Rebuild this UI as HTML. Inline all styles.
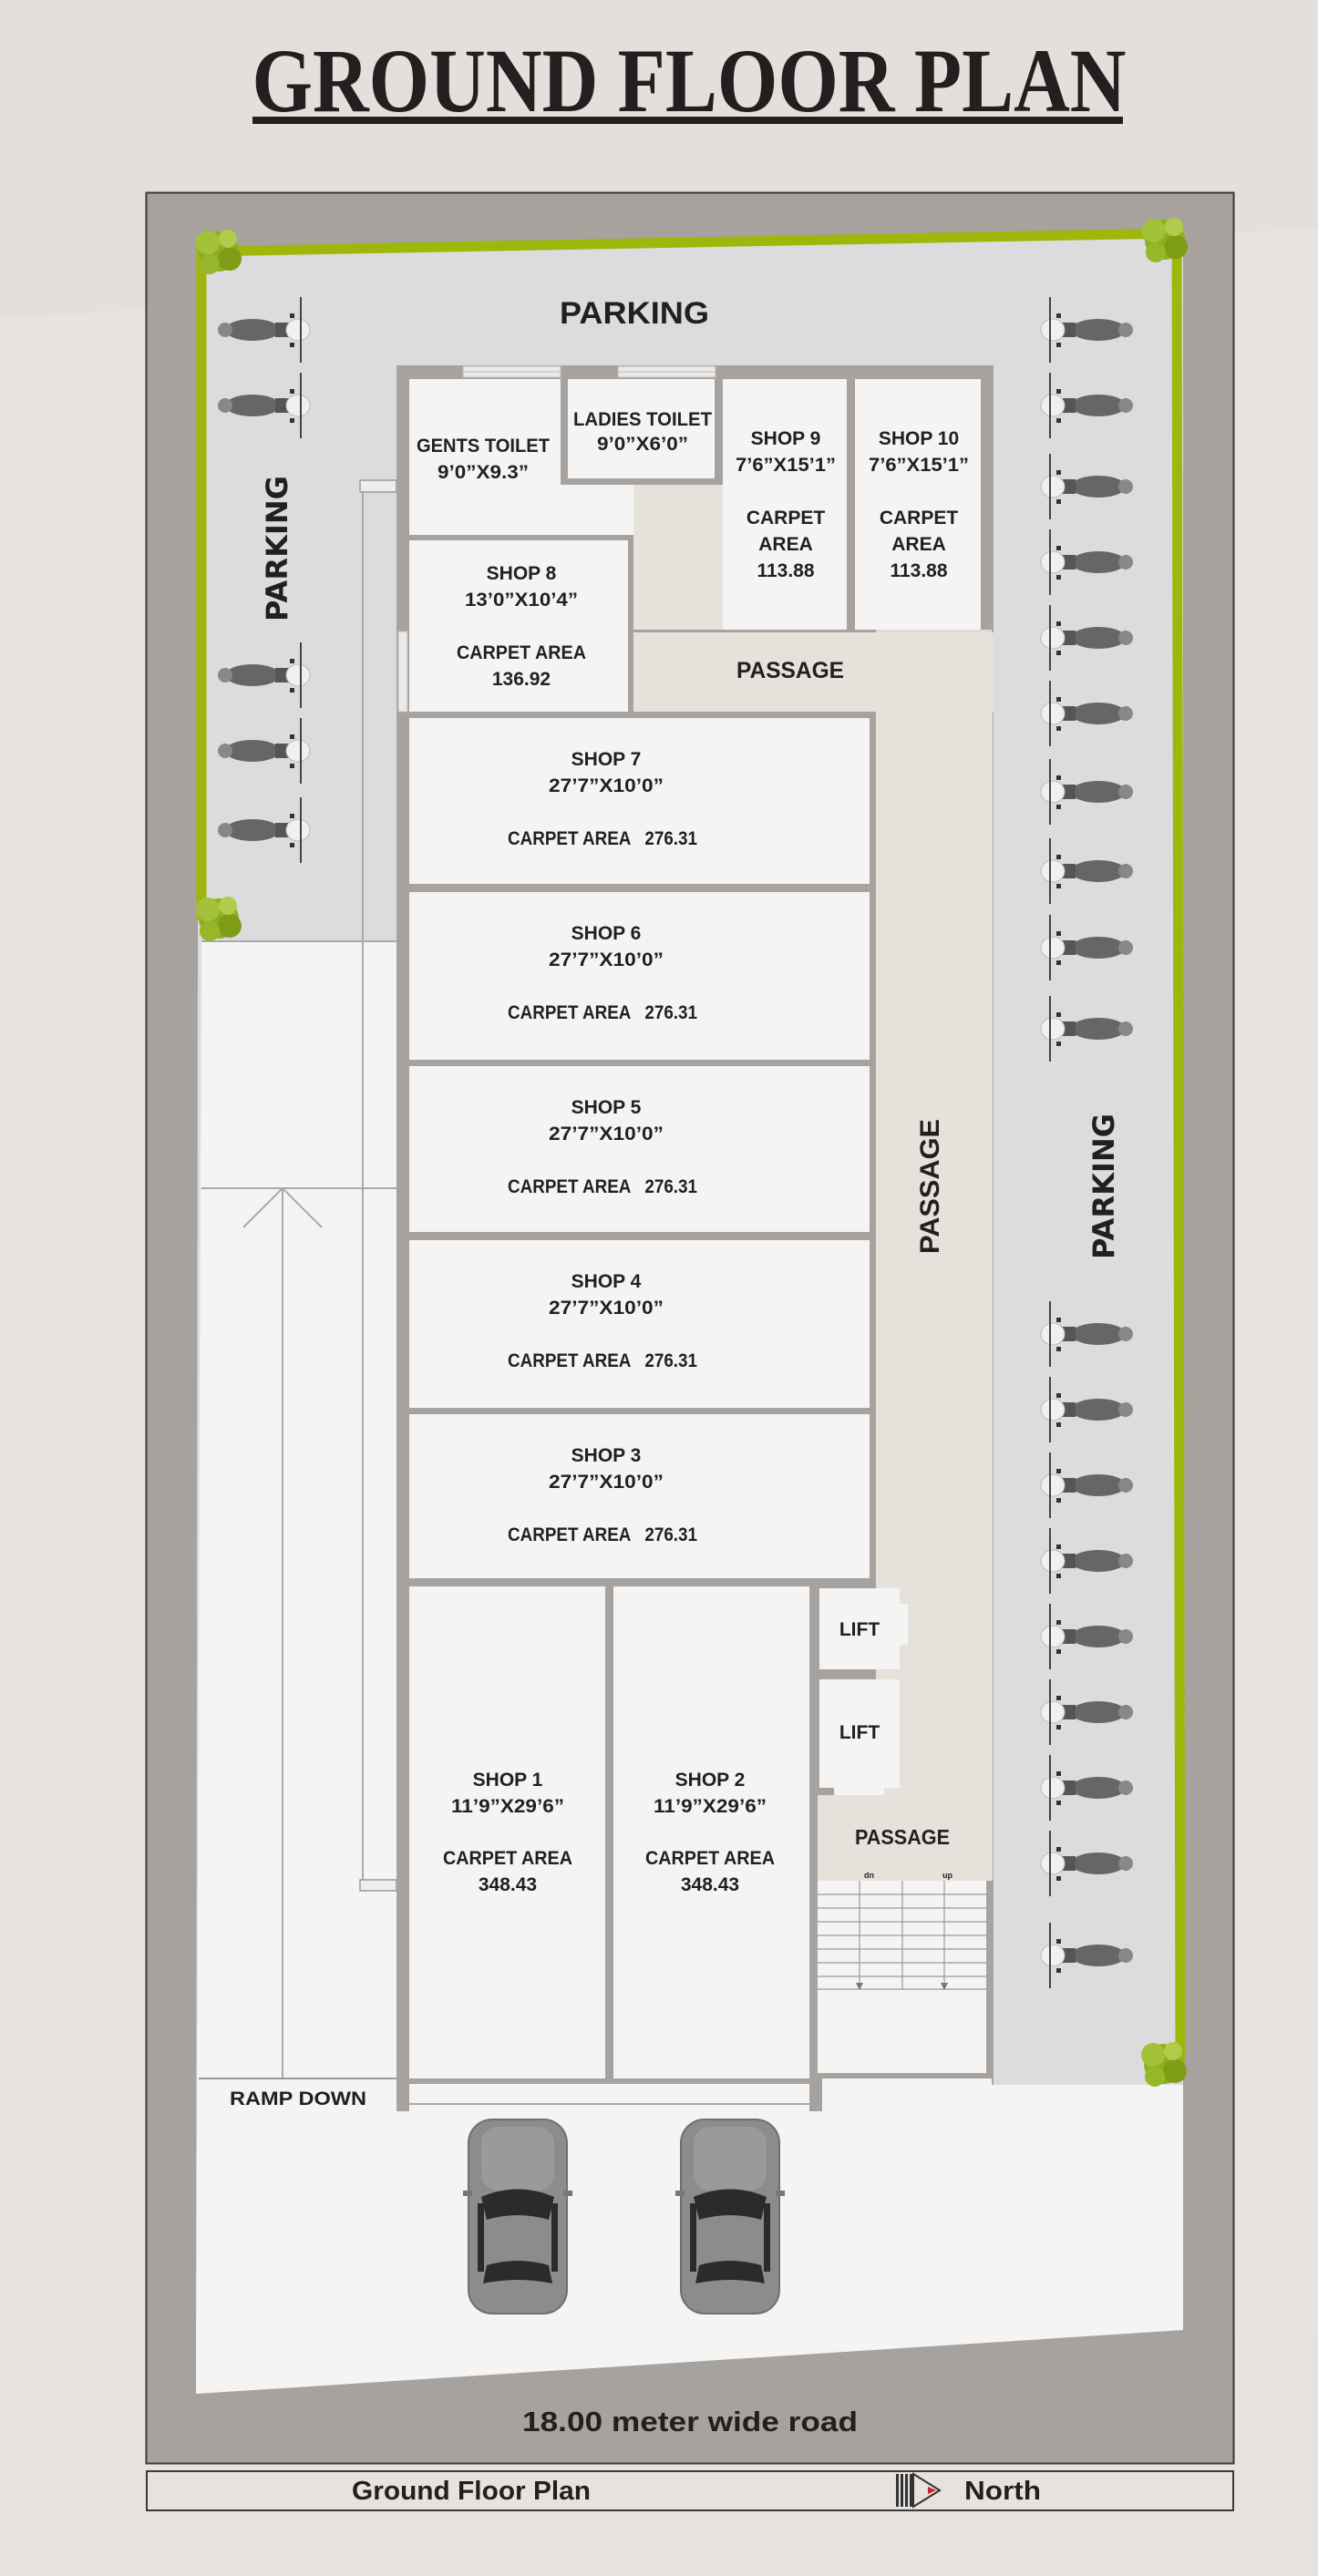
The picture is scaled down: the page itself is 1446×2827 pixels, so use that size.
<!DOCTYPE html>
<html><head><meta charset="utf-8"><style>
html,body{margin:0;padding:0;background:#e6e2dd;}
svg{display:block}
text{font-family:"Liberation Sans",sans-serif;font-weight:bold;fill:#231f20;}
</style></head><body>
<svg width="1446" height="2827" viewBox="0 0 1446 2827" xmlns="http://www.w3.org/2000/svg">
<defs>
<g id="bikeL">
  <ellipse cx="-5" cy="0" rx="30" ry="12" fill="#666"/>
  <ellipse cx="-35" cy="0" rx="8" ry="8" fill="#888"/>
  <rect x="20" y="-8" width="18" height="16" fill="#555"/>
  <ellipse cx="45" cy="0" rx="13" ry="12" fill="#f0f0f0" stroke="#bbb"/>
  <line x1="48" y1="-36" x2="48" y2="36" stroke="#444" stroke-width="2"/>
  <rect x="36" y="-18" width="5" height="5" fill="#333"/>
  <rect x="36" y="14" width="5" height="5" fill="#333"/>
</g>
<g id="bikeR"><use href="#bikeL" transform="scale(-1,1)"/></g>
<g id="car">
  <rect x="0" y="0" width="108" height="213" rx="26" fill="#8c8c8c" stroke="#6f6f6f" stroke-width="2"/>
  <rect x="14" y="8" width="80" height="70" rx="18" fill="#9a9a9a"/>
  <path d="M14 85 Q54 68 94 85 L88 110 Q54 100 20 110 Z" fill="#2b2b2b"/>
  <rect x="10" y="92" width="7" height="75" fill="#2b2b2b"/>
  <rect x="91" y="92" width="7" height="75" fill="#2b2b2b"/>
  <path d="M20 160 Q54 150 88 160 L92 180 Q54 172 16 180 Z" fill="#2b2b2b"/>
  <rect x="-6" y="78" width="10" height="6" fill="#777"/>
  <rect x="104" y="78" width="10" height="6" fill="#777"/>
</g>
<g id="tree">
  <circle cx="0" cy="0" r="22" fill="#8fae1f"/>
  <circle cx="-12" cy="-10" r="13" fill="#a3c23a"/>
  <circle cx="12" cy="8" r="13" fill="#7f9c17"/>
  <circle cx="10" cy="-14" r="10" fill="#b0cc4a"/>
  <circle cx="-10" cy="14" r="11" fill="#98b62a"/>
</g>
</defs>

<rect x="0" y="0" width="1446" height="2827" fill="#e8e5e1"/>
<polygon points="0,0 1446,0 1446,250 0,350" fill="#e3dfda"/>
<polygon points="0,2660 1446,2560 1446,2827 0,2827" fill="#e6e2dd"/>

<text x="756" y="122" text-anchor="middle" font-size="100" textLength="959" lengthAdjust="spacingAndGlyphs" style="font-family:'Liberation Serif',serif">GROUND FLOOR PLAN</text>
<rect x="277" y="128" width="955" height="8" fill="#231f20"/>

<rect x="160.5" y="211.5" width="1193" height="2492" fill="#a7a29d" stroke="#3a3a3a" stroke-width="2"/>

<polygon points="218,274 1291,252 1298,252 1298,2288 1298,2557 215,2627" fill="#dcdcde"/>
<polygon points="221,1033 435,1033 435,2281 1089,2281 1089,2288 1298,2288 1298,2557 215,2627" fill="#f4f4f4"/>

<polyline points="221,1010 221,276 1291,256 1295,2262" fill="none" stroke="#9db70b" stroke-width="11"/>

<line x1="221" y1="1033" x2="435" y2="1033" stroke="#aaa" stroke-width="2"/>
<line x1="221" y1="1304" x2="435" y2="1304" stroke="#aaa" stroke-width="2"/>
<line x1="310" y1="1304" x2="310" y2="2281" stroke="#aaa" stroke-width="2"/>
<polyline points="267,1347 310,1304 353,1347" fill="none" stroke="#aaa" stroke-width="2"/>
<line x1="398" y1="540" x2="398" y2="2063" stroke="#aaa" stroke-width="2"/>
<rect x="395" y="527" width="40" height="13" fill="#eee" stroke="#999" stroke-width="1.5"/>
<rect x="395" y="2063" width="40" height="12" fill="#eee" stroke="#999" stroke-width="1.5"/>
<line x1="218" y1="2281" x2="435" y2="2281" stroke="#999" stroke-width="2"/>
<line x1="1089" y1="691" x2="1089" y2="2288" stroke="#aaa" stroke-width="2"/>

<rect x="435" y="401" width="655" height="290" fill="#a8a29e"/>
<rect x="435" y="691" width="526" height="1050" fill="#a8a29e"/>
<rect x="435" y="1732" width="561" height="238" fill="#a8a29e"/>
<rect x="435" y="1741" width="467" height="546" fill="#a8a29e"/>
<rect x="435" y="2281" width="14" height="36" fill="#a8a29e"/>
<rect x="888" y="2281" width="14" height="36" fill="#a8a29e"/>
<rect x="888" y="2064" width="202" height="217" fill="#a8a29e"/>

<rect x="695" y="532" width="98" height="159" fill="#e6e1db"/>
<rect x="695" y="694" width="395" height="87" fill="#e6e1db"/>
<rect x="961" y="781" width="128" height="1283" fill="#e6e1db"/>
<rect x="996" y="1732" width="93" height="332" fill="#e6e1db"/>
<rect x="897" y="1970" width="192" height="94" fill="#e6e1db"/>

<g fill="#f4f4f4">
<rect x="449" y="416" width="166" height="171"/>
<rect x="615" y="532" width="80" height="55"/>
<rect x="623" y="416" width="161" height="109"/>
<rect x="793" y="416" width="136" height="275"/>
<rect x="938" y="416" width="138" height="275"/>
<rect x="449" y="593" width="240" height="188"/>
<rect x="449" y="788" width="505" height="182"/>
<rect x="449" y="979" width="505" height="184"/>
<rect x="449" y="1170" width="505" height="182"/>
<rect x="449" y="1361" width="505" height="184"/>
<rect x="449" y="1552" width="505" height="180"/>
<rect x="449" y="1741" width="215" height="540"/>
<rect x="673" y="1741" width="215" height="540"/>
<rect x="899" y="1743" width="88" height="89"/>
<rect x="899" y="1843" width="88" height="119"/>
<rect x="897" y="2064" width="185" height="211"/>
<rect x="449" y="2287" width="439" height="22"/>
</g>
<line x1="449" y1="2309" x2="888" y2="2309" stroke="#aaa" stroke-width="2"/>
<rect x="987" y="1760" width="9" height="45" fill="#f4f4f4"/>
<rect x="915" y="1962" width="55" height="8" fill="#f4f4f4"/>
<g fill="#eceae8" stroke="#bbb" stroke-width="1">
<rect x="508" y="402" width="107" height="12"/>
<rect x="678" y="402" width="107" height="12"/>
<rect x="437" y="693" width="10" height="88"/>
</g>
<line x1="508" y1="408" x2="615" y2="408" stroke="#bbb"/>
<line x1="678" y1="408" x2="785" y2="408" stroke="#bbb"/>

<g stroke="#999" stroke-width="1.2">
<line x1="897" y1="2079" x2="1082" y2="2079"/><line x1="897" y1="2094" x2="1082" y2="2094"/>
<line x1="897" y1="2109" x2="1082" y2="2109"/><line x1="897" y1="2124" x2="1082" y2="2124"/>
<line x1="897" y1="2139" x2="1082" y2="2139"/><line x1="897" y1="2154" x2="1082" y2="2154"/>
<line x1="897" y1="2169" x2="1082" y2="2169"/><line x1="897" y1="2183" x2="1082" y2="2183"/>
<line x1="943" y1="2064" x2="943" y2="2180"/><line x1="990" y1="2064" x2="990" y2="2183"/>
<line x1="1036" y1="2064" x2="1036" y2="2180"/>
</g>
<path d="M939 2176 L943 2184 L947 2176Z M1032 2176 L1036 2184 L1040 2176Z" fill="#777"/>
<text x="948" y="2061" font-size="9" font-weight="normal">dn</text>
<text x="1034" y="2061" font-size="9" font-weight="normal">up</text>

<use href="#tree" transform="translate(240,276)"/>
<use href="#tree" transform="translate(1278,263)"/>
<use href="#tree" transform="translate(240,1008)"/>
<use href="#tree" transform="translate(1277,2265)"/>

<use href="#bikeL" transform="translate(282,362)"/>
<use href="#bikeL" transform="translate(282,445)"/>
<use href="#bikeL" transform="translate(282,741)"/>
<use href="#bikeL" transform="translate(282,824)"/>
<use href="#bikeL" transform="translate(282,911)"/>
<use href="#bikeR" transform="translate(1200,362)"/>
<use href="#bikeR" transform="translate(1200,445)"/>
<use href="#bikeR" transform="translate(1200,534)"/>
<use href="#bikeR" transform="translate(1200,617)"/>
<use href="#bikeR" transform="translate(1200,700)"/>
<use href="#bikeR" transform="translate(1200,783)"/>
<use href="#bikeR" transform="translate(1200,869)"/>
<use href="#bikeR" transform="translate(1200,956)"/>
<use href="#bikeR" transform="translate(1200,1040)"/>
<use href="#bikeR" transform="translate(1200,1129)"/>
<use href="#bikeR" transform="translate(1200,1464)"/>
<use href="#bikeR" transform="translate(1200,1547)"/>
<use href="#bikeR" transform="translate(1200,1630)"/>
<use href="#bikeR" transform="translate(1200,1713)"/>
<use href="#bikeR" transform="translate(1200,1796)"/>
<use href="#bikeR" transform="translate(1200,1879)"/>
<use href="#bikeR" transform="translate(1200,1962)"/>
<use href="#bikeR" transform="translate(1200,2045)"/>
<use href="#bikeR" transform="translate(1200,2146)"/>

<use href="#car" transform="translate(514,2326)"/>
<use href="#car" transform="translate(747,2326)"/>

<g text-anchor="middle" font-size="21">
<text x="696" y="355" font-size="34" textLength="164" lengthAdjust="spacingAndGlyphs">PARKING</text>
<text transform="translate(315,602) rotate(-90)" font-size="32" style="font-family:'DejaVu Sans',sans-serif" textLength="160" lengthAdjust="spacingAndGlyphs">PARKING</text>
<text transform="translate(1222,1302) rotate(-90)" font-size="32" style="font-family:'DejaVu Sans',sans-serif" textLength="160" lengthAdjust="spacingAndGlyphs">PARKING</text>

<text x="530" y="496" textLength="146" lengthAdjust="spacingAndGlyphs">GENTS TOILET</text>
<text x="530" y="525" textLength="100" lengthAdjust="spacingAndGlyphs">9’0”X9.3”</text>
<text x="705" y="467" textLength="152" lengthAdjust="spacingAndGlyphs">LADIES TOILET</text>
<text x="705" y="494" textLength="100" lengthAdjust="spacingAndGlyphs">9’0”X6’0”</text>

<text x="862" y="488">SHOP 9</text>
<text x="862" y="517" textLength="110" lengthAdjust="spacingAndGlyphs">7’6”X15’1”</text>
<text x="862" y="575">CARPET</text>
<text x="862" y="604">AREA</text>
<text x="862" y="633">113.88</text>
<text x="1008" y="488">SHOP 10</text>
<text x="1008" y="517" textLength="110" lengthAdjust="spacingAndGlyphs">7’6”X15’1”</text>
<text x="1008" y="575">CARPET</text>
<text x="1008" y="604">AREA</text>
<text x="1008" y="633">113.88</text>

<text x="572" y="636">SHOP 8</text>
<text x="572" y="665" textLength="124" lengthAdjust="spacingAndGlyphs">13’0”X10’4”</text>
<text x="572" y="723" textLength="142" lengthAdjust="spacingAndGlyphs">CARPET AREA</text>
<text x="572" y="752">136.92</text>
<text x="867" y="744" font-size="25" textLength="118" lengthAdjust="spacingAndGlyphs">PASSAGE</text>

<text x="665" y="840">SHOP 7</text>
<text x="665" y="869" textLength="126" lengthAdjust="spacingAndGlyphs">27’7”X10’0”</text>
<text x="661" y="927" textLength="208" lengthAdjust="spacingAndGlyphs" style="white-space:pre">CARPET AREA   276.31</text>
<text x="665" y="1031">SHOP 6</text>
<text x="665" y="1060" textLength="126" lengthAdjust="spacingAndGlyphs">27’7”X10’0”</text>
<text x="661" y="1118" textLength="208" lengthAdjust="spacingAndGlyphs" style="white-space:pre">CARPET AREA   276.31</text>
<text x="665" y="1222">SHOP 5</text>
<text x="665" y="1251" textLength="126" lengthAdjust="spacingAndGlyphs">27’7”X10’0”</text>
<text x="661" y="1309" textLength="208" lengthAdjust="spacingAndGlyphs" style="white-space:pre">CARPET AREA   276.31</text>
<text x="665" y="1413">SHOP 4</text>
<text x="665" y="1442" textLength="126" lengthAdjust="spacingAndGlyphs">27’7”X10’0”</text>
<text x="661" y="1500" textLength="208" lengthAdjust="spacingAndGlyphs" style="white-space:pre">CARPET AREA   276.31</text>
<text x="665" y="1604">SHOP 3</text>
<text x="665" y="1633" textLength="126" lengthAdjust="spacingAndGlyphs">27’7”X10’0”</text>
<text x="661" y="1691" textLength="208" lengthAdjust="spacingAndGlyphs" style="white-space:pre">CARPET AREA   276.31</text>

<text transform="translate(1030,1302) rotate(-90)" font-size="30" textLength="148" lengthAdjust="spacingAndGlyphs">PASSAGE</text>

<text x="943" y="1795">LIFT</text>
<text x="943" y="1908">LIFT</text>
<text x="990" y="2024" font-size="23" textLength="104" lengthAdjust="spacingAndGlyphs">PASSAGE</text>

<text x="557" y="1960">SHOP 1</text>
<text x="557" y="1989" textLength="124" lengthAdjust="spacingAndGlyphs">11’9”X29’6”</text>
<text x="557" y="2046" textLength="142" lengthAdjust="spacingAndGlyphs">CARPET AREA</text>
<text x="557" y="2075">348.43</text>
<text x="779" y="1960">SHOP 2</text>
<text x="779" y="1989" textLength="124" lengthAdjust="spacingAndGlyphs">11’9”X29’6”</text>
<text x="779" y="2046" textLength="142" lengthAdjust="spacingAndGlyphs">CARPET AREA</text>
<text x="779" y="2075">348.43</text>

<text x="327" y="2310" textLength="150" lengthAdjust="spacingAndGlyphs">RAMP DOWN</text>
<text x="757" y="2668" font-size="31" textLength="368" lengthAdjust="spacingAndGlyphs">18.00 meter wide road</text>
</g>

<rect x="161" y="2712" width="1192" height="43" fill="#e6e2dd" stroke="#3a3a3a" stroke-width="2"/>
<text x="517" y="2743" text-anchor="middle" font-size="29" textLength="262" lengthAdjust="spacingAndGlyphs">Ground Floor Plan</text>
<text x="1100" y="2743" text-anchor="middle" font-size="29" textLength="84" lengthAdjust="spacingAndGlyphs">North</text>
<g>
<rect x="983" y="2715" width="3" height="36" fill="#333"/>
<rect x="988" y="2715" width="3" height="36" fill="#333"/>
<rect x="993" y="2715" width="3" height="36" fill="#333"/>
<rect x="998" y="2715" width="3" height="36" fill="#333"/>
<polygon points="1002,2715 1031,2733 1002,2751" fill="none" stroke="#333" stroke-width="2"/>
<polygon points="1018,2729 1027,2733 1018,2737" fill="#d0202a"/>
</g>
</svg>
</body></html>
